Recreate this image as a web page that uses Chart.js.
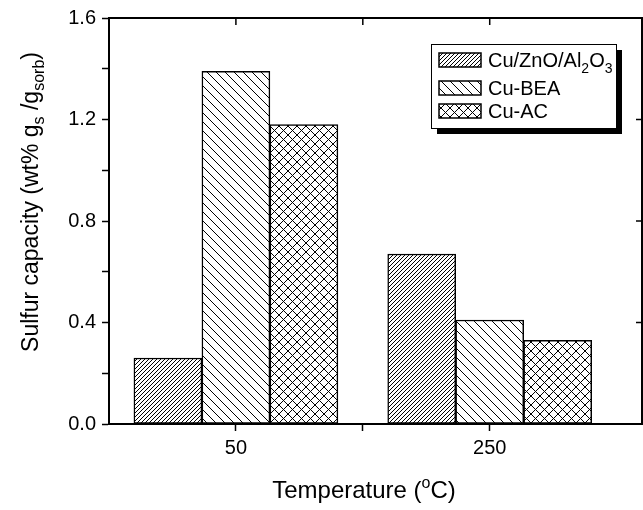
<!DOCTYPE html>
<html lang="en">
<head>
    <meta charset="UTF-8">
    <title>Sulfur capacity vs temperature</title>
    <script src="https://cdn.jsdelivr.net/npm/chart.js"></script>
    <style>
        body {
            margin: 0;
            background: #fff;
            overflow: hidden;
        }
        #chart {
            display: block;
        }
    </style>
</head>
<body>
    <canvas id="chart" width="643" height="510"></canvas>

    <script>
        // Data
        const temperatures = [50, 250];
        const cuZnO = [0.26, 0.67];
        const cuBEA = [1.39, 0.41];
        const cuAC = [1.18, 0.33];

        const xTickValues = [50, 150, 250];
        const xTickLabels = ['50', '', '250'];
        const yTickValues = [0, 0.2, 0.4, 0.6, 0.8, 1.0, 1.2, 1.4, 1.6];
        const yTickLabels = ['0.0', '', '0.4', '', '0.8', '', '1.2', '', '1.6'];

        // legend names as [text, mode] pieces: 0 normal, 1 subscript, 2 superscript
        const legendNames = [
            [['Cu/ZnO/Al', 0], ['2', 1], ['O', 0], ['3', 1]],
            [['Cu-BEA', 0]],
            [['Cu-AC', 0]]
        ];
        const xTitle = [['Temperature (', 0], ['o', 2], ['C)', 0]];
        const yTitle = [['Sulfur capacity (wt% g', 0], ['s', 1], [' /g', 0], ['sorb', 1], [')', 0]];

        const FONT = '"Liberation Sans", Arial, Helvetica, sans-serif';

        // hatch patterns
        function makePattern(kind) {
            const size = kind === 'dense' ? 4 : 9;
            const c = document.createElement('canvas');
            c.width = size;
            c.height = size;
            const g = c.getContext('2d');
            g.fillStyle = '#fff';
            g.fillRect(0, 0, size, size);
            g.strokeStyle = '#000';
            g.lineWidth = 1;
            function fwd() {
                g.beginPath();
                g.moveTo(-1, size + 1); g.lineTo(size + 1, -1);
                g.moveTo(-1, 1); g.lineTo(1, -1);
                g.moveTo(size - 1, size + 1); g.lineTo(size + 1, size - 1);
                g.stroke();
            }
            function back() {
                g.beginPath();
                g.moveTo(-1, -1); g.lineTo(size + 1, size + 1);
                g.moveTo(-1, size - 1); g.lineTo(1, size + 1);
                g.moveTo(size - 1, -1); g.lineTo(size + 1, 1);
                g.stroke();
            }
            if (kind === 'dense') fwd();
            if (kind === 'back') back();
            if (kind === 'cross') { fwd(); back(); }
            return g.createPattern(c, 'repeat');
        }

        const patterns = [makePattern('dense'), makePattern('back'), makePattern('cross')];

        function toPoints(values) {
            return temperatures.map((t, i) => ({ x: t, y: values[i] }));
        }

        // draw text made of normal / sub / superscript pieces
        function richWidth(ctx, parts, size) {
            let w = 0;
            parts.forEach(([t, m]) => {
                ctx.font = (m ? Math.round(size * 0.68) : size) + 'px ' + FONT;
                w += ctx.measureText(t).width;
            });
            return w;
        }
        function drawRich(ctx, parts, x, y, size) {
            parts.forEach(([t, m]) => {
                const s = m ? Math.round(size * 0.68) : size;
                ctx.font = s + 'px ' + FONT;
                let dy = 0;
                if (m === 1) dy = size * 0.28;
                if (m === 2) dy = -size * 0.42;
                ctx.fillText(t, x, y + dy);
                x += ctx.measureText(t).width;
            });
        }

        const decorations = {
            id: 'decorations',
            afterDraw(chart) {
                const ctx = chart.ctx;
                const area = chart.chartArea;
                const xs = chart.scales.x;
                const ys = chart.scales.y;
                ctx.save();
                ctx.strokeStyle = '#000';
                ctx.fillStyle = '#000';

                // top and right frame with inward ticks
                ctx.lineWidth = 2;
                ctx.beginPath();
                ctx.moveTo(area.left - 1, area.top);
                ctx.lineTo(area.right, area.top);
                ctx.lineTo(area.right, area.bottom);
                ctx.stroke();
                ctx.lineWidth = 1.5;
                ctx.beginPath();
                xTickValues.forEach(v => {
                    const px = xs.getPixelForValue(v);
                    ctx.moveTo(px, area.top);
                    ctx.lineTo(px, area.top + 7);
                });
                yTickValues.forEach((v, i) => {
                    if (!yTickLabels[i]) return;
                    const py = ys.getPixelForValue(v);
                    ctx.moveTo(area.right, py);
                    ctx.lineTo(area.right - 6, py);
                });
                ctx.stroke();

                // axis titles
                ctx.textBaseline = 'alphabetic';
                const xw = richWidth(ctx, xTitle, 24);
                drawRich(ctx, xTitle, 364 - xw / 2, 498, 24);

                ctx.save();
                ctx.translate(38, 202);
                ctx.rotate(-Math.PI / 2);
                const yw = richWidth(ctx, yTitle, 23);
                drawRich(ctx, yTitle, -yw / 2, 0, 23);
                ctx.restore();

                // legend box with drop shadow
                const bx = 431, by = 44, bw = 185, bh = 84;
                ctx.fillRect(bx + 6, by + 6, bw, bh);
                ctx.fillStyle = '#fff';
                ctx.fillRect(bx, by, bw, bh);
                ctx.lineWidth = 1;
                ctx.strokeRect(bx + 0.5, by + 0.5, bw, bh);

                const rows = [60, 88, 111];
                legendNames.forEach((parts, i) => {
                    ctx.fillStyle = patterns[i];
                    ctx.fillRect(439, rows[i] - 7, 42, 14);
                    ctx.lineWidth = 1.5;
                    ctx.strokeRect(439, rows[i] - 7, 42, 14);
                    ctx.fillStyle = '#000';
                    drawRich(ctx, parts, 488, rows[i] + 7, 20);
                });
                ctx.restore();
            }
        };

        const ctx = document.getElementById('chart').getContext('2d');
        const chart = new Chart(ctx, {
            type: 'bar',
            data: {
                datasets: [cuZnO, cuBEA, cuAC].map((vals, i) => ({
                    label: legendNames[i].map(p => p[0]).join(''),
                    data: toPoints(vals),
                    backgroundColor: patterns[i],
                    borderColor: '#000',
                    borderWidth: 1.5,
                    borderSkipped: false,
                    barThickness: 68
                }))
            },
            options: {
                responsive: false,
                animation: false,
                layout: {
                    padding: { top: 15, right: 1, left: 0, bottom: 0 }
                },
                plugins: {
                    legend: { display: false },
                    tooltip: { enabled: false }
                },
                scales: {
                    x: {
                        type: 'linear',
                        min: -50,
                        max: 370,
                        offset: false,
                        afterFit(scale) { scale.height = 86; },
                        afterBuildTicks(scale) {
                            scale.ticks = xTickValues.map(v => ({ value: v }));
                        },
                        ticks: {
                            color: '#000',
                            padding: 5,
                            maxRotation: 0,
                            font: { family: FONT, size: 20 },
                            callback(value) {
                                const i = xTickValues.indexOf(value);
                                return i >= 0 ? xTickLabels[i] : '';
                            }
                        },
                        grid: {
                            display: true,
                            offset: false,
                            drawOnChartArea: false,
                            drawTicks: true,
                            tickLength: 7,
                            tickColor: '#000',
                            tickWidth: 1.5
                        },
                        border: { display: true, color: '#000', width: 2 }
                    },
                    y: {
                        min: 0,
                        max: 1.6,
                        afterFit(scale) { scale.width = 109; },
                        afterBuildTicks(scale) {
                            scale.ticks = yTickValues.map(v => ({ value: v }));
                        },
                        ticks: {
                            color: '#000',
                            padding: 6,
                            font: { family: FONT, size: 20 },
                            callback(value, index) {
                                return yTickLabels[index];
                            }
                        },
                        grid: {
                            display: true,
                            drawOnChartArea: false,
                            drawTicks: true,
                            tickLength: 7,
                            tickColor: '#000',
                            tickWidth: 1.5
                        },
                        border: { display: true, color: '#000', width: 2 }
                    }
                }
            },
            plugins: [decorations]
        });
    </script>
</body>
</html>
